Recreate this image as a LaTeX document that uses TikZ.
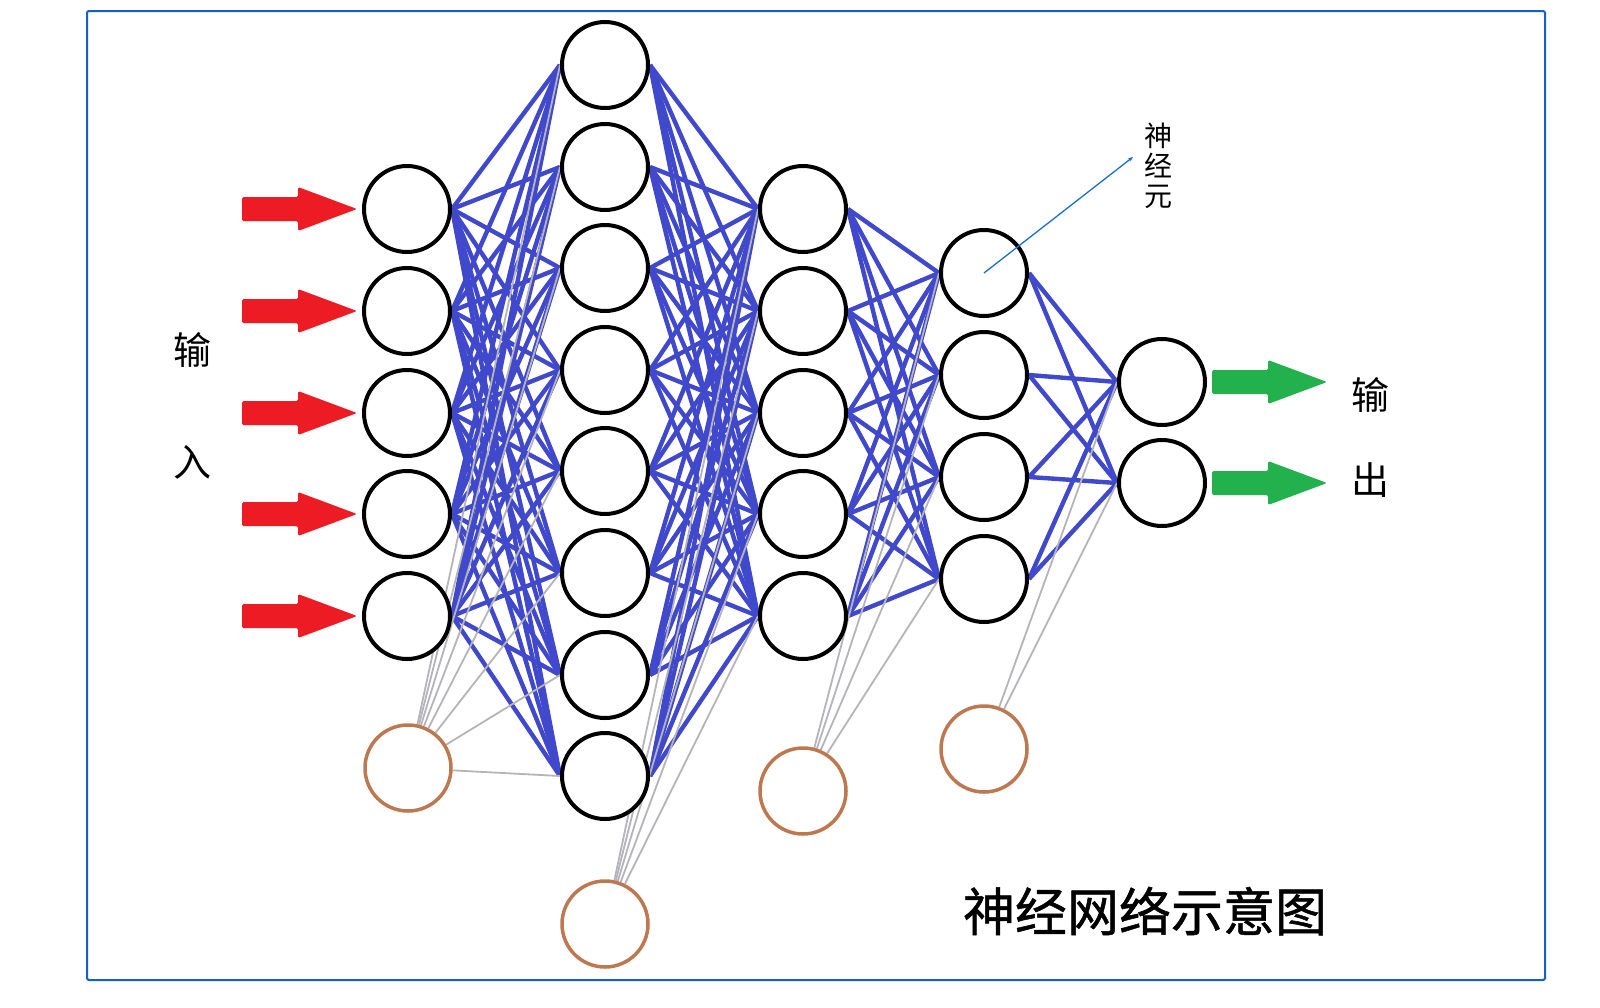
\documentclass[tikz,border=0pt]{standalone}
\usepackage{fontspec}
\setmainfont{Noto Sans CJK SC}
\newfontfamily\titlefont{Noto Sans CJK SC}[FakeBold=1]
\usetikzlibrary{arrows.meta,backgrounds,positioning}

\definecolor{linkblue}{RGB}{64,72,204}
\definecolor{biasgray}{RGB}{180,180,186}
\definecolor{biasbrown}{RGB}{190,120,80}
\definecolor{inred}{RGB}{237,28,36}
\definecolor{outgreen}{RGB}{34,177,76}
\definecolor{frameblue}{RGB}{20,95,205}
\definecolor{tagblue}{RGB}{25,110,210}

\begin{document}
\begin{tikzpicture}[
  x=1pt, y=-1pt,
  neuron/.style={circle, draw=black, line width=4pt, fill=white, minimum size=86pt, inner sep=0pt},
  bias/.style={neuron, draw=biasbrown, line width=3.5pt},
  link/.style={linkblue, line width=4.4pt},
  biaslink/.style={biasgray, line width=1.8pt},
  font=\fontsize{38pt}{40pt}\selectfont
]
\useasboundingbox (0,0) rectangle (1600,1007);
\draw[frameblue, line width=2pt, rounded corners=2pt] (87,11) rectangle (1545,980);

% Layers
\foreach \y [count=\k] in {209,311,413,514,616}
  \node[neuron] (i\k) at (407,\y) {};
\foreach \y [count=\k] in {65,167,268,370,471,573,675,776}
  \node[neuron] (h\k) at (605,\y) {};
\foreach \y [count=\k] in {209,311,413,514,616}
  \node[neuron] (g\k) at (803,\y) {};
\foreach \y [count=\k] in {273,375,477,579}
  \node[neuron] (f\k) at (984,\y) {};
\foreach \y [count=\k] in {382,483}
  \node[neuron] (o\k) at (1162,\y) {};

% Bias units
\node[bias] (bi) at (408,768) {};
\node[bias] (bh) at (605,924) {};
\node[bias] (bg) at (803,791) {};
\node[bias] (bf) at (984,749) {};

% Weights
\begin{pgfonlayer}{background}
\foreach \a in {1,...,5} \foreach \b in {1,...,8} \draw[link] (i\a.east) -- (h\b.west);
\foreach \a in {1,...,8} \foreach \b in {1,...,5} \draw[link] (h\a.east) -- (g\b.west);
\foreach \a in {1,...,5} \foreach \b in {1,...,4} \draw[link] (g\a.east) -- (f\b.west);
\foreach \a in {1,...,4} \foreach \b in {1,2} \draw[link] (f\a.east) -- (o\b.west);
\foreach \b in {1,...,8} \draw[biaslink] (bi) -- (h\b.west);
\foreach \b in {1,...,5} \draw[biaslink] (bh) -- (g\b.west);
\foreach \b in {1,...,4} \draw[biaslink] (bg) -- (f\b.west);
\foreach \b in {1,2} \draw[biaslink] (bf) -- (o\b.west);
\end{pgfonlayer}

% Arrows
\foreach \k in {1,...,5}
  \fill[inred, rounded corners=1.5pt] ([xshift=-5pt]i\k.west) -- ++(-59,-22) -- ++(0,10) -- ++(-56,0) -- ++(0,24) -- ++(56,0) -- ++(0,10) -- cycle;
\foreach \k in {1,2}
  \fill[outgreen, rounded corners=1.5pt] ([xshift=120pt]o\k.east) -- ++(-59,-22) -- ++(0,10) -- ++(-56,0) -- ++(0,24) -- ++(56,0) -- ++(0,10) -- cycle;

% Labels
\node (inlbl1) at (192,350) {输};
\node (inlbl2) at (192,462) {入};
\node (outlbl1) at (1370,395) {输};
\node (outlbl2) at (1370,480) {出};
\node[font=\fontsize{28pt}{30pt}\selectfont, align=center] (neuronlbl) at (1158,166) {神\\经\\元};
\coordinate (tagend) at (1133,157);
\draw[tagblue, line width=1.3pt, -{Stealth[length=5pt,width=4pt]}] (f1.center) -- (tagend);
\node[font=\titlefont\fontsize{52pt}{56pt}\selectfont] (title) at (1145,911) {神经网络示意图};
\end{tikzpicture}
\end{document}
